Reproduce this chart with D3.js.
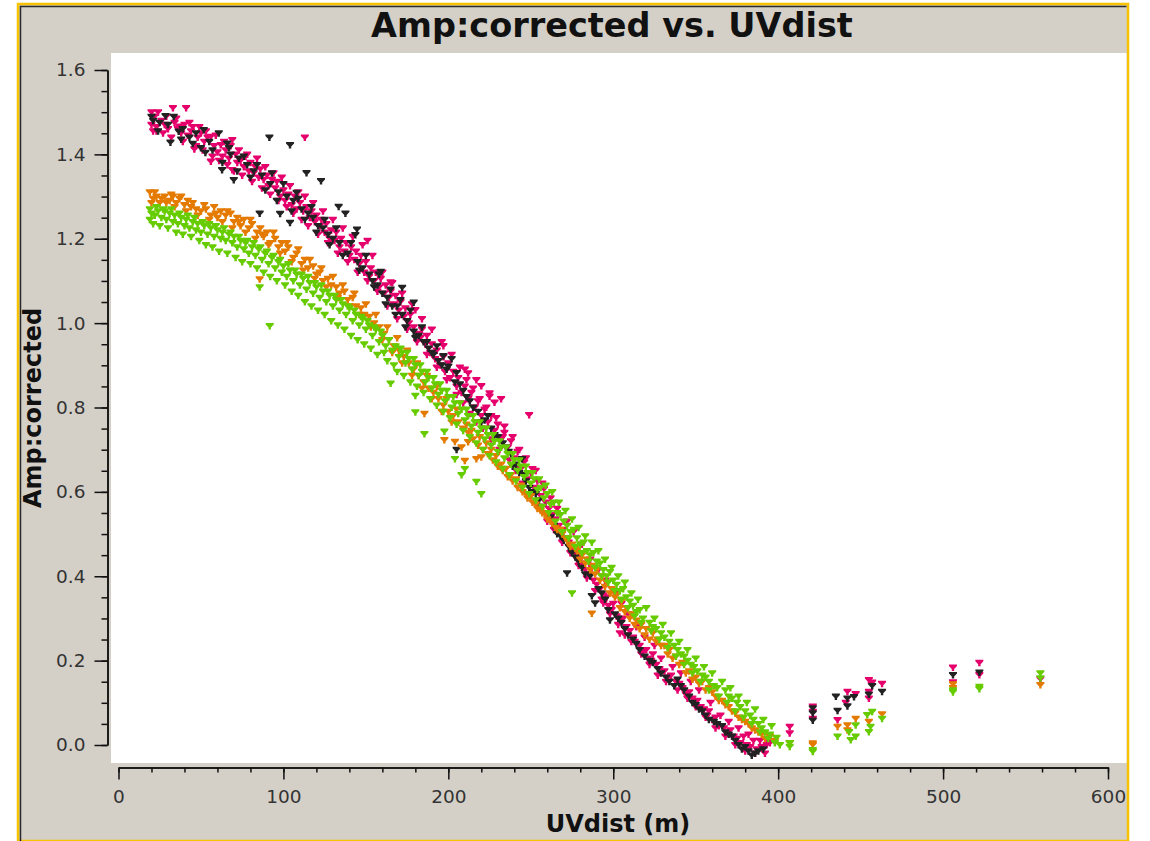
<!DOCTYPE html>
<html>
<head>
<meta charset="utf-8">
<script src="https://cdn.jsdelivr.net/npm/d3@7"></script>
<style>
  body { margin: 0; background: #fff; }
  text { font-family: "DejaVu Sans", sans-serif; }
</style>
</head>
<body>
<div id="plot"></div>
<script>
// Amp:corrected vs UVdist, points as [uvdist, amp]

var magentaPts = [[20,1.50],[20,1.47],[22,1.49],[23,1.465],[23,1.455],[26,1.48],[28,1.47],[30,1.46],[33,1.51],[34,1.475],[36,1.46],[37,1.466],[38,1.45],[40,1.47],[41,1.51],[42,1.445],[44,1.455],[45,1.465],[46,1.412],[48,1.44],[50,1.45],[52,1.43],[54,1.44],[56,1.442],[56,1.383],[58,1.42],[60,1.405],[62,1.422],[63,1.395],[65,1.41],[67,1.39],[69,1.434],[69,1.363],[71,1.40],[72,1.38],[74,1.385],[76,1.37],[77,1.395],[79,1.36],[80,1.38],[82,1.355],[83,1.37],[85,1.345],[86,1.365],[88,1.34],[90,1.35],[91,1.325],[93,1.34],[95,1.32],[96,1.335],[98,1.30],[100,1.315],[101,1.29],[103,1.305],[105,1.28],[107,1.30],[108,1.27],[110,1.285],[112,1.265],[113,1.44],[114,1.275],[116,1.25],[117,1.265],[119,1.24],[120,1.255],[122,1.23],[123,1.245],[125,1.215],[126,1.235],[128,1.20],[129,1.22],[131,1.195],[132,1.215],[134,1.18],[135,1.20],[137,1.17],[138,1.19],[140,1.16],[141,1.18],[143,1.15],[144,1.17],[146,1.14],[147,1.16],[149,1.12],[150,1.145],[151,1.195],[152,1.11],[153,1.13],[155,1.10],[156,1.12],[158,1.085],[159,1.105],[161,1.07],[162,1.09],[164,1.06],[165,1.097],[165,1.075],[167,1.045],[168,1.065],[170,1.03],[171,1.05],[173,1.015],[174,1.035],[176,1.00],[177,1.02],[179,0.99],[180,1.031],[181,0.975],[183,0.965],[184,0.985],[186,0.95],[187,0.97],[189,0.93],[190,0.95],[192,0.915],[193,0.935],[195,0.90],[197,0.946],[197,0.92],[198,0.885],[200,0.905],[201,0.87],[203,0.885],[205,0.85],[206,0.87],[208,0.835],[210,0.89],[210,0.85],[212,0.881],[212,0.82],[214,0.835],[216,0.80],[217,0.865],[218,0.815],[220,0.851],[220,0.78],[222,0.795],[224,0.765],[225,0.834],[225,0.826],[226,0.78],[228,0.812],[228,0.745],[230,0.76],[232,0.82],[232,0.725],[233,0.73],[234,0.74],[236,0.705],[238,0.72],[240,0.68],[242,0.695],[244,0.655],[246,0.67],[248,0.63],[249,0.782],[250,0.645],[251,0.654],[252,0.61],[254,0.625],[256,0.59],[258,0.606],[259,0.575],[261,0.56],[263,0.545],[265,0.535],[267,0.52],[268,0.505],[270,0.51],[271,0.49],[273,0.48],[275,0.465],[277,0.455],[278,0.44],[280,0.45],[282,0.43],[283,0.415],[285,0.405],[287,0.42],[288,0.39],[290,0.38],[292,0.37],[294,0.336],[294,0.355],[296,0.35],[297,0.33],[299,0.32],[300,0.335],[302,0.305],[304,0.265],[304,0.295],[306,0.30],[308,0.28],[310,0.27],[312,0.255],[313,0.245],[316,0.235],[318,0.22],[320,0.225],[321,0.205],[323,0.20],[324,0.215],[326,0.19],[328,0.18],[331,0.175],[333,0.16],[335,0.165],[338,0.15],[340,0.145],[342,0.135],[344,0.12],[346,0.125],[348,0.11],[351,0.105],[353,0.09],[355,0.085],[357,0.07],[358,0.08],[360,0.06],[362,0.065],[364,0.045],[367,0.04],[369,0.03],[371,0.035],[373,0.02],[375,0.015],[377,0.005],[379,0.02],[381,0.0],[383,-0.005],[385,0.01],[387,-0.01],[390,-0.005],[393,0.0],[407,0.043],[407,0.028],[421,0.091],[421,0.079],[421,0.062],[436,0.059],[442,0.126],[447,0.121],[441,0.10],[455,0.154],[457,0.148],[455,0.126],[455,0.11],[463,0.145],[506,0.184],[506,0.149],[522,0.195],[522,0.166],[559,0.156],
  [21,1.455],[24,1.50],[27,1.45],[29,1.49],[32,1.44],[35,1.485],[39,1.43],[43,1.475],[47,1.42],[49,1.465],[51,1.41],[53,1.455],[57,1.395],[59,1.445],[61,1.385],[64,1.43],[66,1.375],[68,1.42],[70,1.36],[73,1.41],[75,1.35],[78,1.40],[81,1.335],[84,1.39],[87,1.32],[89,1.37],[92,1.305],[94,1.355],[97,1.29],[99,1.345],[102,1.275],[104,1.325],[106,1.26],[109,1.31],[111,1.245],[113,1.30],[115,1.23],[118,1.285],[121,1.21],[124,1.265],[127,1.19],[130,1.245],[133,1.165],[136,1.225],[139,1.145],[142,1.205],[145,1.12],[148,1.185],[151,1.10],[154,1.16],[157,1.075],[160,1.12],[163,1.04],[166,1.095],[169,1.01],[172,1.07],[175,0.985],[178,1.045],[181,0.955],[184,1.01],[187,0.925],[190,0.985],[193,0.895],[196,0.955],[199,0.865],[202,0.925],[205,0.83],[207,0.895],[209,0.81],[211,0.865],[213,0.785],[215,0.845],[217,0.765],[219,0.82],[221,0.75],[223,0.80],[226,0.725],[229,0.775],[231,0.70],[234,0.755],[237,0.675],[239,0.73],[241,0.65],[243,0.70],[245,0.62],[247,0.68],[250,0.59],[253,0.65],[255,0.565],[257,0.62],[260,0.53],[262,0.585],[264,0.51],[266,0.56],[269,0.48],[272,0.53],[274,0.455],[276,0.505],[279,0.425],[281,0.475],[284,0.395],[286,0.44],[289,0.365],[291,0.415],[293,0.345],[295,0.39],[298,0.31],[301,0.36],[303,0.285],[305,0.335],[307,0.26],[309,0.31],[311,0.245],[314,0.28],[317,0.215],[319,0.255],[322,0.19],[325,0.235],[327,0.165],[329,0.205],[332,0.15],[336,0.185],[339,0.13],[341,0.17],[345,0.11],[347,0.15],[350,0.09],[352,0.13],[356,0.065],[359,0.10],[362,0.04],[365,0.07],[368,0.02],[370,0.055],[374,0.0],[376,0.04],[380,-0.015],[382,0.025],[386,-0.02],[389,0.01],[392,-0.02],[395,0.005]];

var blackPts = [[20,1.489],[21,1.48],[25,1.475],[28.5,1.491],[31.5,1.428],[33.5,1.489],[36.5,1.454],[39,1.46],[43,1.44],[47,1.45],[51.7,1.458],[52.7,1.404],[55,1.43],[60.8,1.45],[62.8,1.363],[65.9,1.426],[68,1.40],[69.9,1.339],[73,1.39],[78,1.375],[82,1.36],[85.6,1.26],[87,1.35],[91.5,1.44],[92,1.33],[97,1.31],[98,1.259],[102,1.30],[104,1.422],[104,1.238],[106,1.29],[108,1.309],[111,1.27],[114,1.356],[115,1.26],[118,1.25],[121,1.23],[122.8,1.337],[124,1.225],[127,1.21],[130,1.20],[133.5,1.276],[134,1.19],[137.6,1.26],[139,1.165],[143.6,1.209],[144.6,1.222],[145,1.145],[148,1.13],[152,1.115],[154,1.10],[157,1.09],[159,1.122],[160,1.07],[163,1.06],[166,1.04],[169,1.04],[172,1.084],[172,1.02],[175,1.005],[179,1.049],[179,0.98],[182,0.97],[185,0.955],[188,0.94],[191,0.925],[194,0.91],[197,0.922],[199,0.89],[200,0.897],[202,0.915],[204,0.86],[205,0.882],[205,0.70],[209,0.84],[213,0.815],[218,0.79],[222,0.77],[226,0.75],[230,0.73],[236.6,0.695],[235,0.705],[239,0.66],[244.7,0.678],[243,0.645],[247,0.625],[251,0.60],[255,0.58],[260,0.55],[264,0.52],[268,0.495],[272,0.407],[273,0.47],[277,0.445],[281,0.42],[287,0.353],[286,0.40],[289,0.336],[291,0.37],[295,0.345],[298,0.296],[301,0.31],[305,0.29],[309,0.26],[314,0.24],[319,0.21],[324,0.195],[329,0.17],[334,0.15],[339,0.155],[343,0.13],[348,0.10],[352,0.085],[356,0.07],[361,0.055],[366,0.045],[370,0.025],[374,0.01],[378,-0.01],[382,-0.015],[386,-0.02],[391,-0.01],[421,0.087],[421,0.075],[421,0.058],[435,0.115],[436,0.081],[442,0.11],[446,0.114],[442,0.092],[457,0.14],[455,0.12],[463,0.126],[506,0.166],[522,0.172],
  [24,1.455],[30,1.47],[38,1.435],[45,1.425],[50,1.415],[57,1.41],[63,1.38],[67,1.415],[72,1.36],[76,1.395],[80,1.345],[84,1.375],[89,1.315],[93,1.355],[96,1.29],[100,1.33],[105,1.265],[109,1.295],[113,1.245],[117,1.275],[120,1.215],[125,1.245],[128,1.185],[132,1.225],[136,1.16],[141,1.19],[146,1.125],[150,1.16],[155,1.085],[158,1.115],[162,1.045],[165,1.08],[168,1.02],[171,1.055],[174,0.99],[177,1.03],[180,0.965],[184,0.99],[187,0.955],[190,0.93],[193,0.945],[196,0.90],[207,0.855],[211,0.825],[215,0.80],[220,0.765],[224,0.78],[228,0.735],[233,0.715],[238,0.69],[241,0.665],[246,0.64],[249,0.61],[253,0.595],[257,0.565],[262,0.54],[266,0.50],[270,0.485],[275,0.455],[279,0.435],[283,0.405],[293,0.36],[297,0.32],[303,0.30],[307,0.275],[312,0.25],[316,0.225],[322,0.2],[327,0.18],[332,0.16],[337,0.14],[341,0.14],[346,0.115],[350,0.095],[354,0.08],[358,0.06],[363,0.05],[368,0.03],[372,0.02],[376,0.0],[380,-0.005],[384,-0.025],[388,-0.015]];

var orangePts = [[19,1.31],[21,1.295],[23,1.30],[25,1.285],[28,1.30],[31,1.29],[33,1.30],[35,1.285],[37,1.295],[40,1.28],[42,1.29],[44,1.275],[47,1.27],[50,1.265],[53,1.27],[56,1.255],[58,1.275],[60,1.25],[62,1.265],[65,1.255],[68,1.26],[70,1.24],[72,1.25],[74,1.23],[76,1.245],[79,1.225],[81,1.235],[84,1.215],[86,1.225],[85.6,1.104],[88,1.205],[90,1.215],[92,1.19],[95,1.20],[97,1.18],[99,1.19],[101,1.17],[103,1.18],[106,1.155],[108,1.165],[111,1.14],[113,1.15],[115,1.13],[118,1.135],[120,1.115],[122,1.12],[124,1.10],[127,1.105],[129,1.09],[132,1.085],[134,1.07],[137,1.075],[139,1.055],[142,1.06],[144,1.04],[147,1.035],[149,1.02],[152,1.015],[155,1.00],[158,0.99],[161,0.975],[164,0.96],[167,0.945],[170,0.935],[173,0.92],[176,0.905],[179,0.89],[182,0.875],[185.5,0.785],[185,0.86],[188,0.845],[191,0.835],[194,0.82],[197.6,0.723],[197,0.805],[200,0.79],[203,0.78],[204,0.719],[206,0.765],[208,0.706],[209,0.75],[210,0.674],[212,0.718],[212,0.74],[215,0.725],[217,0.678],[218,0.71],[220,0.682],[221,0.70],[224,0.69],[227,0.675],[230,0.66],[233,0.65],[236,0.635],[239,0.625],[242,0.61],[245,0.60],[248,0.585],[251,0.575],[254,0.56],[257,0.55],[260,0.535],[263,0.525],[266,0.51],[269,0.50],[272,0.485],[275,0.475],[278,0.46],[281,0.45],[284,0.44],[287,0.312],[287,0.425],[290,0.415],[293,0.40],[296,0.385],[299,0.37],[302,0.355],[305,0.34],[308,0.325],[311,0.31],[314,0.295],[317,0.285],[320,0.275],[324,0.265],[327,0.25],[331,0.235],[334,0.225],[338,0.21],[342,0.195],[346,0.175],[350,0.16],[354,0.15],[358,0.135],[362,0.115],[366,0.105],[370,0.09],[374,0.075],[378,0.06],[382,0.05],[386,0.035],[390,0.025],[395,0.02],[398,0.01],[407,0.005],[421,0.004],[421,0.0],[436,0.043],[442,0.047],[442,0.035],[447,0.062],[455,0.055],[463,0.073],[506,0.144],[506,0.135],[559,0.142],
  [20,1.285],[22,1.31],[26,1.295],[29,1.285],[32,1.305],[34,1.275],[38,1.30],[41,1.265],[45,1.285],[48,1.255],[52,1.28],[55,1.245],[59,1.26],[63,1.24],[66,1.265],[69,1.225],[73,1.24],[77,1.215],[80,1.245],[83,1.20],[87,1.21],[91,1.185],[94,1.215],[98,1.165],[102,1.19],[105,1.145],[109,1.175],[112,1.125],[116,1.15],[119,1.105],[123,1.13],[126,1.085],[130,1.11],[133,1.06],[136,1.09],[140,1.04],[143,1.07],[146,1.02],[150,1.045],[153,0.99],[156,1.02],[160,0.96],[163,0.99],[166,0.93],[169,0.965],[172,0.905],[175,0.935],[178,0.875],[181,0.905],[184,0.845],[187,0.875],[190,0.82],[193,0.85],[196,0.79],[199,0.82],[202,0.765],[205,0.795],[211,0.76],[214,0.745],[219,0.73],[223,0.715],[226,0.70],[229,0.685],[232,0.665],[235,0.655],[238,0.64],[241,0.63],[244,0.615],[247,0.595],[250,0.59],[253,0.57],[256,0.555],[259,0.545],[262,0.53],[265,0.515],[268,0.51],[271,0.49],[274,0.47],[277,0.465],[280,0.44],[283,0.43],[286,0.415],[289,0.405],[292,0.39],[295,0.375],[298,0.36],[301,0.35],[304,0.325],[307,0.315],[310,0.30],[313,0.285],[316,0.275],[319,0.26],[322,0.25],[326,0.245],[329,0.235],[333,0.215],[336,0.205],[340,0.19],[344,0.17],[348,0.155],[352,0.145],[356,0.13],[360,0.125],[364,0.105],[368,0.095],[372,0.08],[376,0.065],[380,0.055],[384,0.04],[388,0.03],[392,0.015]];

var greenPts = [[19,1.27],[19,1.245],[20,1.26],[22,1.255],[24,1.265],[26,1.25],[27,1.27],[29,1.245],[31,1.26],[33,1.24],[34,1.255],[36,1.235],[38,1.25],[40,1.23],[41,1.245],[43,1.225],[45,1.24],[47,1.22],[48,1.235],[50,1.215],[52,1.23],[54,1.21],[56,1.225],[58,1.205],[60,1.22],[62,1.20],[63,1.215],[65,1.195],[67,1.21],[69,1.19],[70,1.205],[72,1.18],[74,1.195],[76,1.175],[77,1.19],[79,1.165],[81,1.18],[83,1.16],[85,1.175],[85.6,1.085],[87,1.15],[89,1.165],[91,1.14],[91.7,0.993],[93,1.155],[95,1.13],[97,1.145],[99,1.12],[100,1.135],[102,1.11],[104,1.125],[106,1.10],[108,1.115],[110,1.09],[112,1.105],[114,1.08],[116,1.095],[118,1.07],[120,1.085],[122,1.06],[124,1.075],[126,1.05],[128,1.065],[130,1.04],[132,1.055],[134,1.03],[136,1.045],[138,1.02],[140,1.035],[142,1.005],[144,1.02],[146,0.995],[148,1.01],[150,0.985],[152,0.995],[154,0.97],[156,0.985],[158,0.955],[160,0.97],[161,0.93],[162,0.945],[164,0.96],[165,0.857],[166,0.935],[167,0.90],[168,0.945],[170,0.92],[172,0.93],[174,0.905],[176,0.915],[178,0.89],[180,0.828],[180,0.789],[180,0.90],[182,0.875],[184,0.885],[185.5,0.737],[186,0.86],[188,0.87],[190,0.845],[192,0.855],[194,0.83],[196,0.84],[197.6,0.743],[198,0.815],[200,0.825],[202,0.80],[204,0.678],[204,0.81],[206,0.785],[208,0.64],[208,0.795],[210,0.654],[210,0.77],[212,0.78],[214,0.755],[216,0.765],[217,0.624],[218,0.74],[220,0.595],[220,0.75],[222,0.725],[224,0.735],[226,0.71],[228,0.72],[230,0.695],[232,0.705],[234,0.68],[236,0.69],[238,0.665],[240,0.675],[242,0.65],[244,0.66],[246,0.635],[248,0.645],[250,0.62],[252,0.63],[254,0.605],[256,0.61],[258,0.585],[260,0.595],[262,0.57],[264,0.575],[266,0.55],[268,0.545],[270,0.53],[272,0.52],[274,0.505],[275,0.36],[276,0.51],[278,0.49],[280,0.475],[282,0.48],[284,0.46],[286,0.45],[288,0.455],[290,0.435],[292,0.43],[294,0.415],[296,0.40],[298,0.41],[300,0.39],[302,0.38],[304,0.365],[306,0.37],[308,0.35],[310,0.34],[312,0.33],[314,0.315],[316,0.32],[318,0.30],[322,0.29],[324,0.28],[326,0.275],[329,0.265],[331,0.255],[334,0.245],[337,0.235],[339,0.225],[341,0.215],[343,0.21],[345,0.20],[347,0.19],[349,0.185],[351,0.175],[354,0.165],[356,0.16],[358,0.15],[361,0.14],[363,0.135],[368,0.13],[370,0.115],[372,0.11],[375,0.10],[377,0.09],[380,0.08],[383,0.07],[385,0.06],[388,0.05],[390,0.04],[392,0.03],[395,0.025],[399,0.017],[401,0.0],[407,0.005],[407,-0.004],[421,-0.012],[421,-0.016],[436,0.02],[444,0.012],[443,0.031],[447,0.02],[447,0.047],[454,0.071],[457,0.079],[456,0.043],[455,0.031],[463,0.062],[506,0.13],[506,0.125],[522,0.138],[522,0.133],[559,0.17],[559,0.158],
  [21,1.235],[23,1.275],[25,1.23],[28,1.265],[30,1.225],[32,1.27],[35,1.215],[37,1.26],[39,1.21],[42,1.255],[44,1.205],[46,1.25],[49,1.195],[51,1.24],[53,1.185],[55,1.235],[57,1.18],[59,1.23],[61,1.17],[64,1.225],[66,1.165],[68,1.215],[71,1.155],[73,1.205],[75,1.145],[78,1.195],[80,1.14],[82,1.19],[84,1.13],[86,1.18],[88,1.12],[90,1.17],[92,1.11],[94,1.16],[96,1.10],[98,1.15],[101,1.09],[103,1.14],[105,1.075],[107,1.125],[109,1.065],[111,1.115],[113,1.05],[115,1.11],[117,1.04],[119,1.095],[121,1.03],[123,1.09],[125,1.02],[127,1.075],[129,1.005],[131,1.065],[133,0.995],[135,1.055],[137,0.985],[139,1.04],[141,0.97],[143,1.03],[145,0.96],[147,1.015],[149,0.95],[151,1.005],[153,0.94],[155,0.99],[157,0.925],[159,0.98],[163,0.91],[169,0.885],[171,0.94],[173,0.875],[175,0.93],[177,0.86],[179,0.915],[181,0.85],[183,0.90],[185,0.835],[187,0.885],[189,0.82],[191,0.87],[193,0.805],[195,0.855],[197,0.79],[199,0.84],[201,0.775],[203,0.825],[205,0.76],[207,0.81],[209,0.745],[211,0.795],[213,0.73],[215,0.78],[217,0.715],[219,0.765],[221,0.70],[223,0.75],[225,0.685],[227,0.735],[229,0.67],[231,0.72],[233,0.655],[235,0.705],[237,0.64],[239,0.69],[241,0.625],[243,0.675],[245,0.61],[247,0.66],[249,0.595],[251,0.645],[253,0.58],[255,0.63],[257,0.565],[259,0.615],[261,0.55],[263,0.60],[265,0.53],[267,0.575],[269,0.505],[271,0.555],[273,0.49],[275,0.535],[277,0.47],[279,0.515],[281,0.455],[283,0.495],[285,0.435],[287,0.48],[289,0.42],[291,0.46],[293,0.40],[295,0.44],[297,0.385],[299,0.42],[301,0.365],[303,0.40],[305,0.345],[307,0.385],[309,0.325],[311,0.36],[313,0.305],[315,0.345],[317,0.29],[320,0.325],[323,0.27],[325,0.30],[328,0.25],[330,0.285],[333,0.23],[335,0.265],[338,0.21],[340,0.245],[343,0.19],[345,0.225],[348,0.17],[350,0.205],[353,0.15],[355,0.185],[358,0.13],[360,0.17],[364,0.115],[366,0.15],[369,0.10],[371,0.135],[374,0.08],[376,0.115],[379,0.065],[381,0.10],[384,0.05],[386,0.085],[389,0.03],[391,0.06],[394,0.015],[396,0.045],[398,0.005]];

// drawing order and colours
var seriesList = [magentaPts, blackPts, orangePts, greenPts];
var seriesColors = ["#e5006c", "#222222", "#e47a00", "#66cc00"];

var xTicks = [0, 100, 200, 300, 400, 500, 600];
var yTicks = [0.0, 0.2, 0.4, 0.6, 0.8, 1.0, 1.2, 1.4, 1.6];

var svgWidth = 1150;
var svgHeight = 841;

var svg = d3.select("#plot")
  .append("svg")
  .attr("width", svgWidth)
  .attr("height", svgHeight);

// grey panel with the yellow frame
svg.append("rect")
  .attr("x", 18)
  .attr("y", 4)
  .attr("width", 1110)
  .attr("height", 837)
  .attr("fill", "#d4d0c8")
  .attr("stroke", "#f7c300")
  .attr("stroke-width", 2.5);

svg.append("path")
  .attr("d", "M20.5,841V6.5H1126.5")
  .attr("fill", "none")
  .attr("stroke", "#2a2a2a")
  .attr("stroke-width", 1.5);

// white plot canvas
svg.append("rect")
  .attr("x", 111)
  .attr("y", 53)
  .attr("width", 1015.5)
  .attr("height", 710)
  .attr("fill", "#fff");

// scales
var xScale = d3.scaleLinear().domain([0, 600]).range([118.5, 1108]);
var yScale = d3.scaleLinear().domain([0, 1.6]).range([745, 70]);

// x axis, major and minor ticks
var xAxisG = svg.append("g")
  .attr("transform", "translate(0,767.5)");

xAxisG.append("g")
  .call(d3.axisBottom(xScale).tickValues(d3.range(0, 601, 20)).tickSize(5).tickSizeOuter(0).tickFormat(""));

xAxisG.append("g")
  .call(d3.axisBottom(xScale).tickValues(xTicks).tickSize(12).tickSizeOuter(0).tickPadding(10).tickFormat(d3.format("d")));

// y axis
var yAxisG = svg.append("g")
  .attr("transform", "translate(107.5,0)");

yAxisG.append("g")
  .call(d3.axisLeft(yScale).tickValues(d3.range(0, 33).map(i => i * 0.05)).tickSize(6).tickSizeOuter(0).tickFormat(""));

yAxisG.append("g")
  .call(d3.axisLeft(yScale).tickValues(yTicks).tickSize(13).tickSizeOuter(0).tickPadding(9).tickFormat(d3.format(".1f")));

svg.selectAll(".tick line, .domain")
  .attr("stroke", "#111")
  .attr("stroke-width", 1.5);

svg.selectAll(".tick text")
  .attr("fill", "#333")
  .style("font-family", "DejaVu Sans")
  .style("font-size", "18.5px");

// markers: little downward funnel shape
var marker = "M-4,-3H4V-1.5L1.2,1.5V3.5H-1.2V1.5L-4,-1.5Z";

var pointsG = svg.append("g");

seriesList.forEach((pts, i) => {
  pointsG.append("g")
    .selectAll("path")
    .data(pts)
    .enter()
    .append("path")
    .attr("d", marker)
    .attr("transform", d => `translate(${xScale(d[0])},${yScale(d[1])})`)
    .attr("fill", seriesColors[i]);
});

// titles
svg.append("text")
  .attr("x", 612)
  .attr("y", 37)
  .attr("text-anchor", "middle")
  .style("font-size", "33.5px")
  .style("font-weight", "bold")
  .attr("fill", "#111")
  .text("Amp:corrected vs. UVdist");

svg.append("text")
  .attr("x", 618)
  .attr("y", 832)
  .attr("text-anchor", "middle")
  .style("font-size", "24px")
  .style("font-weight", "bold")
  .attr("fill", "#111")
  .text("UVdist (m)");

svg.append("text")
  .attr("transform", "translate(41,408) rotate(-90)")
  .attr("text-anchor", "middle")
  .style("font-size", "24px")
  .style("font-weight", "bold")
  .attr("fill", "#111")
  .text("Amp:corrected");
</script>
</body>
</html>
